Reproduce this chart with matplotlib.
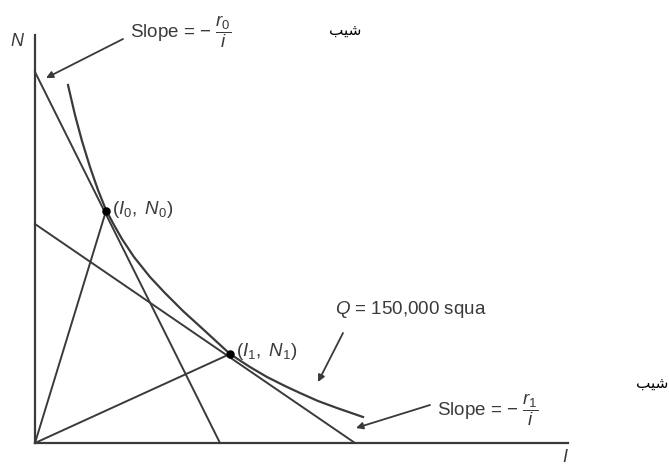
import matplotlib
matplotlib.use("Agg")
import matplotlib.pyplot as plt

plt.rcParams['font.family'] = ['Liberation Sans', 'DejaVu Sans']
plt.rcParams['mathtext.fontset'] = 'custom'
plt.rcParams['mathtext.rm'] = 'Liberation Sans'
plt.rcParams['mathtext.it'] = 'Liberation Sans:italic'
plt.rcParams['mathtext.bf'] = 'Liberation Sans:bold'

# isoquant Q = 150,000 (I, N)
curve_i = [33, 40, 47, 55, 63, 71, 79, 87, 99, 115, 130, 148, 170, 195,
           215, 232, 250, 265, 283, 302, 328]
curve_n = [358, 328, 302, 276, 253, 233, 218, 204, 186, 166, 150, 132, 112, 89,
           76, 66, 57, 50, 42, 35, 26]

# tangency points
point_i = [71, 195]
point_n = [232, 89]
point_labels = [r'$(I_0,\ N_0)$', r'$(I_1,\ N_1)$']

# tangent lines: N-intercept and I-intercept
line0 = ([0, 185], [371, 0])
line1 = ([0, 320], [219, 0])

axis_i_max = 533
axis_n_max = 408

ink = '#3a3a3a'
fs = 13.5

fig = plt.figure(figsize=(6.69, 4.66), dpi=100)
ax = fig.add_axes([0, 0, 1, 1])
ax.set_xlim(-35, 634)
ax.set_ylim(-23, 443)
ax.axis('off')

# axes of the diagram
ax.plot([0, 0], [0, axis_n_max], color=ink, lw=1.6)
ax.plot([0, axis_i_max], [0, 0], color=ink, lw=1.6)
ax.text(-18, 401, 'N', fontsize=13, style='italic', color=ink, ha='center', va='center')
ax.text(530, -15, 'I', fontsize=13, style='italic', color=ink, ha='center', va='center')

# tangent lines and rays
ax.plot(*line0, color=ink, lw=1.4)
ax.plot(*line1, color=ink, lw=1.4)
for i, n in zip(point_i, point_n):
    ax.plot([0, i], [0, n], color=ink, lw=1.4)

# isoquant
ax.plot(curve_i, curve_n, color=ink, lw=1.6, solid_joinstyle='round')

ax.scatter(point_i, point_n, s=26, color='black', zorder=5)
ax.text(point_i[0] + 6, point_n[0] + 1, point_labels[0], fontsize=fs, color=ink, va='center')
ax.text(point_i[1] + 6, point_n[1] + 3, point_labels[1], fontsize=fs, color=ink, va='center')

arrow = dict(arrowstyle='-|>', color=ink, lw=1.3, mutation_scale=10, shrinkA=0, shrinkB=0)

ax.annotate('', xy=(11, 365), xytext=(88, 404), arrowprops=arrow)
ax.text(95, 411, 'Slope = \u2212 ' + r'$\dfrac{r_0}{i}$', fontsize=fs, color=ink, va='center')

ax.annotate('', xy=(283, 61), xytext=(308, 110), arrowprops=arrow)
ax.text(300, 133, r'$Q$ = 150,000 squa', fontsize=fs, color=ink, va='center')

ax.annotate('', xy=(321, 15), xytext=(395, 38), arrowprops=arrow)
ax.text(402, 33, 'Slope = \u2212 ' + r'$\dfrac{r_1}{i}$', fontsize=fs, color=ink, va='center')

# Persian word "شیب", shaped glyphs in visual order
shib = '\uFE90\uFBFF\uFEB7'
ax.text(310, 413, shib, fontsize=11, family=['DejaVu Sans'], ha='center', va='center')
ax.text(617, 60, shib, fontsize=11, family=['DejaVu Sans'], ha='center', va='center')

fig.savefig('out.png', dpi=100)
